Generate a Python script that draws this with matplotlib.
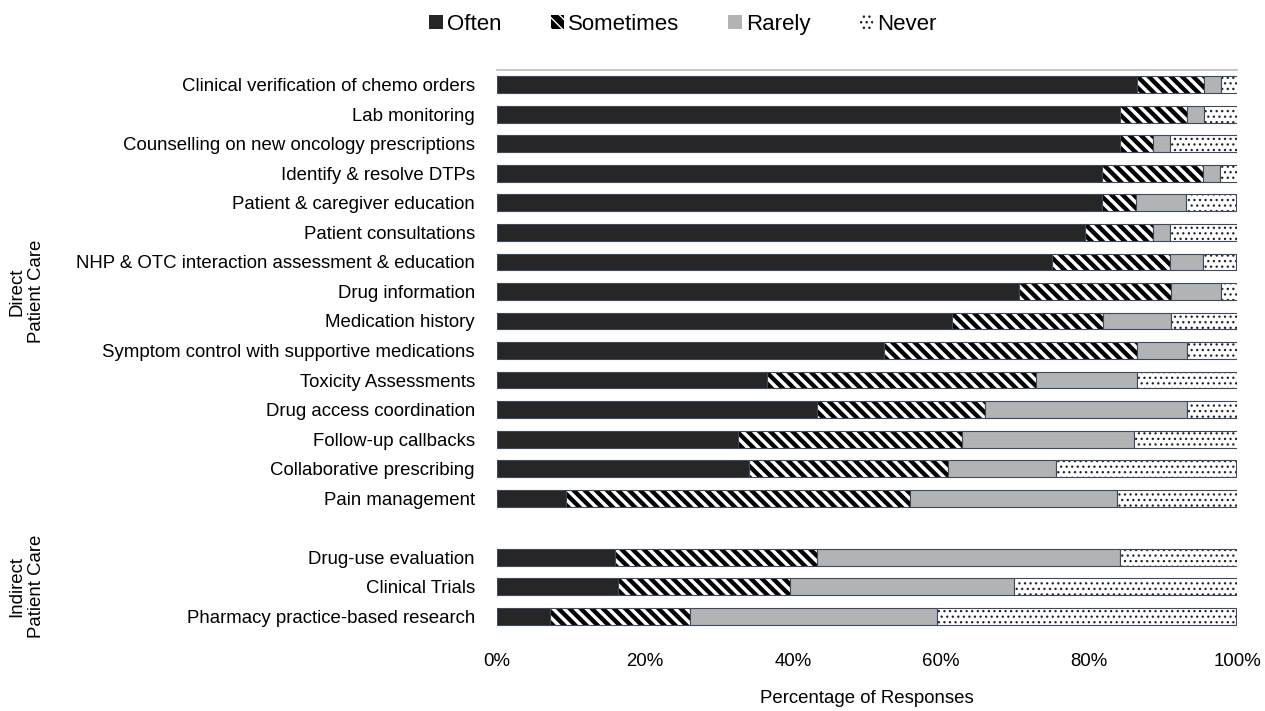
from matplotlib import pyplot as plt, transforms
from matplotlib.patches import Patch

plt.rcParams['font.family'] = ['Liberation Sans', 'DejaVu Sans']

activities = [
    "Clinical verification of chemo orders",
    "Lab monitoring",
    "Counselling on new oncology prescriptions",
    "Identify & resolve DTPs",
    "Patient & caregiver education",
    "Patient consultations",
    "NHP & OTC interaction assessment & education",
    "Drug information",
    "Medication history",
    "Symptom control with supportive medications",
    "Toxicity Assessments",
    "Drug access coordination",
    "Follow-up callbacks",
    "Collaborative prescribing",
    "Pain management",
    "Drug-use evaluation",
    "Clinical Trials",
    "Pharmacy practice-based research",
]
# row positions: 15 direct care rows, one empty slot, 3 indirect care rows
positions = list(range(15)) + [16, 17, 18]

often = [86.4, 84.1, 84.1, 81.8, 81.8, 79.5, 75.0, 70.5, 61.4, 52.3,
         36.4, 43.2, 32.6, 34.1, 9.3, 15.9, 16.3, 7.1]
sometimes = [9.1, 9.1, 4.5, 13.6, 4.5, 9.1, 15.9, 20.5, 20.5, 34.1,
             36.4, 22.7, 30.2, 26.8, 46.5, 27.3, 23.3, 19.0]
rarely = [2.3, 2.3, 2.3, 2.3, 6.8, 2.3, 4.5, 6.8, 9.1, 6.8,
          13.6, 27.3, 23.3, 14.6, 27.9, 40.9, 30.2, 33.3]
never = [2.3, 4.5, 9.1, 2.3, 6.8, 9.1, 4.5, 2.3, 9.1, 6.8,
         13.6, 6.8, 14.0, 24.4, 16.3, 15.9, 30.2, 40.5]

groups = ["Direct\nPatient Care", "Indirect\nPatient Care"]
group_centers = [7, 17]

# (label, values, face, hatch colour, hatch, hatch linewidth)
series = [
    ("Often", often, "#262626", None, None, 1.0),
    ("Sometimes", sometimes, "black", "white", "\\\\\\", 2.5),
    ("Rarely", rarely, "#b1b3b5", None, None, 1.0),
    ("Never", never, "white", "#222222", "...", 0.9),
]
outline = "#3d4a5c"


def set_hlw(patch, lw):
    # newer matplotlib keeps hatch width per patch
    if hasattr(patch, 'set_hatch_linewidth'):
        patch.set_hatch_linewidth(lw)


fig = plt.figure(figsize=(12.65, 7.11), dpi=100)
ax = fig.add_axes([0.393, 0.1125, 0.585, 0.789])

left = [0.0] * len(often)
handles = []
for label, vals, face, hcol, hatch, hlw in series:
    with plt.rc_context({'hatch.linewidth': hlw}):
        bars = ax.barh(positions, vals, left=left, height=0.57,
                       color=face, edgecolor=hcol if hcol else face,
                       hatch=hatch, linewidth=0)
        for b in bars:
            set_hlw(b, hlw)
        h = Patch(facecolor=face, edgecolor=hcol if hcol else face,
                  hatch=hatch, linewidth=0, label=label)
        set_hlw(h, hlw)
        handles.append(h)
    ax.barh(positions, vals, left=left, height=0.57, fill=False,
            edgecolor=outline, linewidth=0.8)
    left = [a + b for a, b in zip(left, vals)]

ax.set_xlim(0, 100)
ax.set_ylim(18.5, -0.5)
ax.set_yticks(positions)
ax.set_yticklabels(activities)
ax.set_xticks(range(0, 101, 20))
ax.set_xticklabels([f"{v}%" for v in range(0, 101, 20)])
ax.tick_params(axis='y', length=0, pad=16, labelsize=13.4)
ax.tick_params(axis='x', length=0, pad=16, labelsize=13.4)

for side in ['left', 'right', 'bottom']:
    ax.spines[side].set_visible(False)
ax.spines['top'].set_color('#c0c0c0')
ax.spines['top'].set_linewidth(1.3)

ax.set_xlabel("Percentage of Responses", fontsize=13.4, labelpad=14)

trans = transforms.blended_transform_factory(fig.transFigure, ax.transData)
for name, yc in zip(groups, group_centers):
    ax.text(0.021, yc, name, transform=trans, rotation=90, ha='center',
            va='center', multialignment='center', fontsize=13.4)

fig.legend(handles=handles, loc='center', bbox_to_anchor=(0.54, 0.966),
           ncol=4, frameon=False, fontsize=16, handlelength=0.6,
           handleheight=0.6, handletextpad=0.2, columnspacing=2.2)

fig.savefig("out.png", dpi=100)
